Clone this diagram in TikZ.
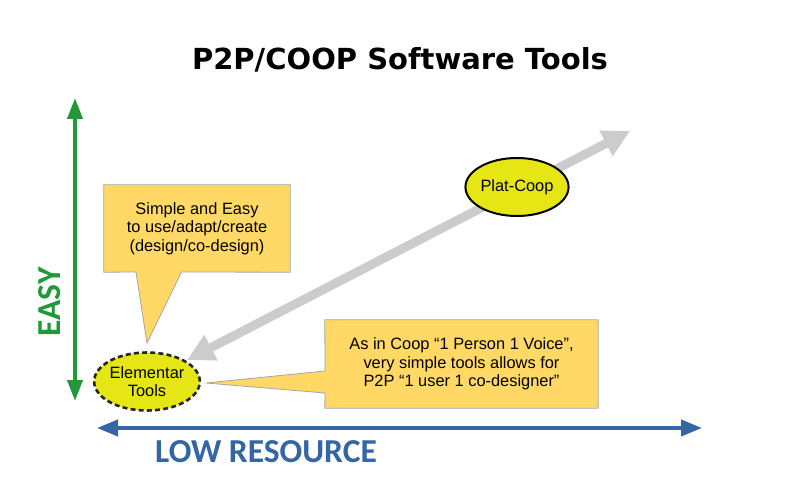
\documentclass[tikz,border=0pt]{standalone}
\usepackage{fontspec}
\setmainfont{Liberation Sans}
\newfontfamily\titlefont{DejaVu Sans}
\newfontfamily\axisfont{Carlito}
\usetikzlibrary{arrows.meta,shapes.geometric}
\definecolor{ceasy}{RGB}{34,152,58}
\definecolor{cres}{RGB}{52,101,164}
\definecolor{cgray}{RGB}{204,204,204}
\definecolor{cyel}{RGB}{230,230,20}
\definecolor{ccall}{RGB}{255,216,102}
\definecolor{cborder}{RGB}{165,165,165}
\pgfdeclarelayer{bg}
\pgfsetlayers{bg,main}
\begin{document}
\begin{tikzpicture}[x=1pt,y=-1pt,
  bodytext/.style={font=\fontsize{16.4}{18.3}\selectfont, align=center},
  calloutbox/.style={inner sep=0pt, bodytext},
  calloutshape/.style={fill=ccall, draw=cborder, line width=0.8pt, line join=miter},
  easyarrow/.style={ceasy, line width=4pt, {Triangle[length=21pt,width=15pt]}-{Triangle[length=21pt,width=15pt]}},
  resarrow/.style={cres, line width=4pt, {Triangle[length=21pt,width=16pt]}-{Triangle[length=21pt,width=16pt]}},
  grayarrow/.style={cgray, line width=9pt, {Triangle[length=27pt,width=27pt]}-{Triangle[length=27pt,width=27pt]}},
  platnode/.style={ellipse, draw=black, line width=2pt, fill=cyel, minimum width=100pt, minimum height=58pt, inner sep=0pt, bodytext},
  elemnode/.style={ellipse, draw=black!85, line width=2.6pt, dash pattern=on 5pt off 3.2pt, fill=cyel, minimum width=101pt, minimum height=58pt, inner sep=0pt, bodytext},
  axislabel/.style={font=\axisfont\bfseries\fontsize{33.5}{36}\selectfont}
]
\useasboundingbox (0,0) rectangle (800,500);
\begin{pgfonlayer}{bg}
\fill[white] (0,0) rectangle (800,500);
\end{pgfonlayer}

% title
\node[font=\titlefont\bfseries\fontsize{29}{34}\selectfont, anchor=base] (title) at (400,70) {P2P/COOP Software Tools};

% axes
\coordinate (etop) at (75,98);
\coordinate (ebot) at (75,401);
\draw[easyarrow] (etop) -- (ebot);
\node[axislabel, ceasy, rotate=90, anchor=base] (easy) at (60,302) {EASY};

\coordinate (rleft) at (97,428);
\coordinate (rright) at (702,428);
\draw[resarrow] (rleft) -- (rright);
\node[axislabel, cres, anchor=base] (lowres) at (266,462) {LOW RESOURCE};

% ellipses
\node[elemnode] (elem) at (147,381.5) {Elementar\\Tools};
\node[platnode] (plat) at (517,187) {Plat-Coop};

% gray double arrow
\coordinate (gtop) at (630,131);
\coordinate (glow) at (187,360);
\begin{pgfonlayer}{bg}
\draw[grayarrow] (glow) -- (gtop);
\end{pgfonlayer}

% callout 1
\node[calloutbox, minimum width=186pt, minimum height=87pt] (c1) at (197,228.5)
  {Simple and Easy\\to use/adapt/create\\(design/co-design)};
\coordinate (c1a) at (136,272);
\coordinate (c1b) at (181.5,272);
\coordinate (c1tip) at (147,343);
% callout 2
\node[calloutbox, minimum width=273pt, minimum height=88pt] (c2) at (461.5,364)
  {As in Coop “1 Person 1 Voice”,\\very simple tools allows for\\P2P “1 user 1 co-designer”};
\coordinate (c2a) at (325,371);
\coordinate (c2b) at (325,393);
\coordinate (c2tip) at (206,383);
\begin{pgfonlayer}{bg}
\draw[calloutshape] (c1.north west) -- (c1.north east) -- (c1.south east) -- (c1b) -- (c1tip) -- (c1a) -- (c1.south west) -- cycle;
\draw[calloutshape] (c2.north west) -- (c2.north east) -- (c2.south east) -- (c2.south west) -- (c2b) -- (c2tip) -- (c2a) -- cycle;
\end{pgfonlayer}
\end{tikzpicture}
\end{document}
